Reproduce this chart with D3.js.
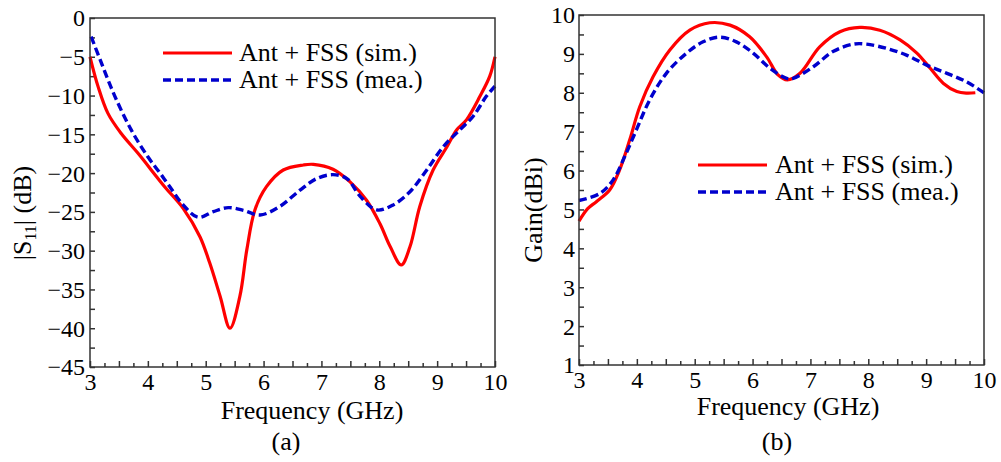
<!DOCTYPE html>
<html lang="en">
<head>
    <meta charset="UTF-8">
    <title>Ant + FSS: S11 and Gain</title>
    <script src="https://d3js.org/d3.v7.min.js"></script>
    <style>
        body {
            margin: 0;
            background: #fff;
        }
        svg text {
            font-family: "Liberation Serif", "Times New Roman", "DejaVu Serif", serif;
            fill: #000;
        }
    </style>
</head>
<body>
    <svg id="chart" width="1001" height="462"></svg>

    <script>
        // (a) |S11| data
        const s11SimFreq = [3.00, 3.14, 3.31, 3.54, 3.83, 4.29, 4.61, 4.90, 5.07, 5.25, 5.42, 5.59, 5.71, 5.85, 6.05, 6.34, 6.69, 6.86, 7.20, 7.49, 7.78, 8.01, 8.19, 8.38, 8.53, 8.70, 8.93, 9.17, 9.34, 9.51, 9.74, 9.91, 10.0];
        const s11SimDb   = [-5.0, -8.85, -12.3, -14.9, -17.45, -21.75, -24.54, -28.2, -31.6, -35.9, -40.0, -35.9, -29.9, -24.75, -21.75, -19.6, -18.95, -18.87, -19.5, -21.1, -23.5, -26.5, -29.5, -31.85, -29.5, -24.3, -19.6, -16.6, -14.4, -13.1, -10.1, -7.5, -5.0];
        const s11MeaFreq = [3.02, 3.20, 3.43, 3.71, 4.00, 4.21, 4.38, 4.61, 4.87, 5.13, 5.39, 5.65, 5.94, 6.28, 6.63, 6.92, 7.20, 7.44, 7.67, 7.955, 8.24, 8.53, 8.82, 9.106, 9.395, 9.62, 9.85, 10.0];
        const s11MeaDb   = [-2.4, -5.85, -10.1, -14.4, -17.9, -20.0, -21.75, -24.1, -25.7, -24.97, -24.45, -24.8, -25.4, -24.3, -22.2, -20.7, -20.2, -20.7, -23.0, -24.75, -24.1, -22.4, -19.6, -16.6, -14.4, -12.7, -10.1, -8.8];

        // (b) gain data
        const gainSimFreq = [3.00, 3.15, 3.30, 3.53, 3.70, 3.877, 4.05, 4.28, 4.57, 4.915, 5.26, 5.61, 5.95, 6.24, 6.44, 6.60, 6.82, 7.16, 7.51, 7.855, 8.20, 8.55, 8.84, 9.07, 9.30, 9.53, 9.70, 9.85];
        const gainSimDbi  = [4.70, 5.02, 5.20, 5.50, 6.01, 6.79, 7.64, 8.41, 9.10, 9.61, 9.80, 9.74, 9.44, 8.93, 8.46, 8.33, 8.50, 9.18, 9.57, 9.68, 9.61, 9.36, 9.02, 8.63, 8.24, 8.03, 7.99, 8.00];
        const gainMeaFreq = [3.00, 3.36, 3.59, 3.79, 3.99, 4.22, 4.51, 4.86, 5.145, 5.43, 5.72, 6.01, 6.30, 6.59, 6.70, 7.05, 7.39, 7.74, 7.97, 8.32, 8.66, 9.01, 9.36, 9.70, 10.0];
        const gainMeaDbi  = [5.23, 5.41, 5.76, 6.36, 7.04, 7.81, 8.50, 9.02, 9.31, 9.43, 9.31, 9.02, 8.63, 8.37, 8.37, 8.67, 9.06, 9.25, 9.25, 9.14, 8.97, 8.71, 8.50, 8.28, 8.00];

        // tick values
        const freqTicks = [3, 4, 5, 6, 7, 8, 9, 10];
        const s11Ticks = [0, -5, -10, -15, -20, -25, -30, -35, -40, -45];
        const gainTicks = [1, 2, 3, 4, 5, 6, 7, 8, 9, 10];
        const legendLabels = ["Ant + FSS (sim.)", "Ant + FSS (mea.)"];

        const simColor = "#ff0000", meaColor = "#0000cd", axisColor = "#333";
        const svg = d3.select("#chart");

        function zip(xs, ys) {
            return xs.map((x, i) => [x, ys[i]]);
        }

        function drawPanel(p) {
            const x = d3.scaleLinear().domain([3, 10]).range([p.left, p.right]);
            const y = d3.scaleLinear().domain(p.yDomain).range([p.bottom, p.top]);
            const g = svg.append("g");

            // minor x ticks (quarters) and half ticks
            const quarters = d3.range(3, 10.001, 0.25);
            g.append("g")
                .attr("transform", `translate(0,${p.bottom})`)
                .call(d3.axisBottom(x).tickValues(quarters.filter(v => v % 0.5 !== 0)).tickSize(-4).tickFormat(""));
            g.append("g")
                .attr("transform", `translate(0,${p.bottom})`)
                .call(d3.axisBottom(x).tickValues(quarters.filter(v => v % 0.5 === 0 && v % 1 !== 0)).tickSize(-6).tickFormat(""));

            // major x ticks with labels
            g.append("g")
                .attr("class", "xaxis")
                .attr("transform", `translate(0,${p.bottom})`)
                .call(d3.axisBottom(x).tickValues(freqTicks).tickSize(-6).tickPadding(6).tickFormat(d3.format("d")));

            // y ticks
            g.append("g")
                .attr("transform", `translate(${p.left},0)`)
                .call(d3.axisLeft(y).tickValues(p.yMinor).tickSize(-5).tickFormat(""));
            g.append("g")
                .attr("class", "yaxis")
                .attr("transform", `translate(${p.left},0)`)
                .call(d3.axisLeft(y).tickValues(p.yTicks).tickSize(-5).tickPadding(p.yPad).tickFormat(d3.format("d")));

            g.selectAll(".domain").remove();
            g.selectAll(".tick line").attr("stroke", axisColor).attr("stroke-width", 1.5);
            g.selectAll(".xaxis text, .yaxis text")
                .style("font-size", "24px")
                .style("font-family", "'Liberation Serif', 'Times New Roman', 'DejaVu Serif', serif")
                .attr("fill", "#000");
            g.selectAll(".yaxis text").attr("dy", "0.33em");

            // curves
            const line = d3.line()
                .x(d => x(d[0]))
                .y(d => y(d[1]))
                .curve(d3.curveCatmullRom.alpha(0.5));

            g.append("path")
                .datum(zip(p.simF, p.simV))
                .attr("d", line)
                .attr("fill", "none")
                .attr("stroke", simColor)
                .attr("stroke-width", 3.2);

            g.append("path")
                .datum(zip(p.meaF, p.meaV))
                .attr("d", line)
                .attr("fill", "none")
                .attr("stroke", meaColor)
                .attr("stroke-width", 3.4)
                .attr("stroke-dasharray", "8,4");

            // frame
            g.append("rect")
                .attr("x", p.left)
                .attr("y", p.top)
                .attr("width", p.right - p.left)
                .attr("height", p.bottom - p.top)
                .attr("fill", "none")
                .attr("stroke", axisColor)
                .attr("stroke-width", 1.5);

            // legend
            legendLabels.forEach((label, i) => {
                const ly = p.legendY[i];
                g.append("line")
                    .attr("x1", p.legendX[0]).attr("x2", p.legendX[1])
                    .attr("y1", ly).attr("y2", ly)
                    .attr("stroke", i === 0 ? simColor : meaColor)
                    .attr("stroke-width", i === 0 ? 3.2 : 3.4)
                    .attr("stroke-dasharray", i === 0 ? null : "8,4");
                g.append("text")
                    .attr("x", p.legendX[2])
                    .attr("y", ly + 8)
                    .attr("font-size", 26)
                    .text(label);
            });

            // axis titles
            g.append("text")
                .attr("x", p.xTitle[0])
                .attr("y", p.xTitle[1])
                .attr("text-anchor", "middle")
                .attr("font-size", 26)
                .text("Frequency (GHz)");

            const yt = g.append("text")
                .attr("transform", `translate(${p.yTitle[0]},${p.yTitle[1]}) rotate(-90)`)
                .attr("text-anchor", "middle")
                .attr("font-size", 26);
            p.yTitleParts.forEach(part => {
                const t = yt.append("tspan").text(part.text);
                if (part.sub) t.attr("font-size", 16).attr("dy", 5);
                if (part.after) t.attr("dy", -5);
            });

            g.append("text")
                .attr("x", p.caption[0])
                .attr("y", p.caption[1])
                .attr("text-anchor", "middle")
                .attr("font-size", 26)
                .text(p.captionText);
        }

        drawPanel({
            left: 90, right: 495, top: 18, bottom: 367,
            yDomain: [-45, 0],
            yTicks: s11Ticks,
            yMinor: d3.range(-42.5, 0, 5),
            yPad: 5,
            simF: s11SimFreq, simV: s11SimDb,
            meaF: s11MeaFreq, meaV: s11MeaDb,
            legendX: [163, 232, 239],
            legendY: [53, 80],
            xTitle: [312, 419],
            yTitle: [31, 213],
            yTitleParts: [{ text: "|S" }, { text: "11", sub: true }, { text: "| (dB)", after: true }],
            caption: [286, 450],
            captionText: "(a)"
        });

        drawPanel({
            left: 579, right: 984, top: 15, bottom: 365,
            yDomain: [1, 10],
            yTicks: gainTicks,
            yMinor: d3.range(1.5, 10, 1),
            yPad: 4,
            simF: gainSimFreq, simV: gainSimDbi,
            meaF: gainMeaFreq, meaV: gainMeaDbi,
            legendX: [698, 767, 775],
            legendY: [165, 192],
            xTitle: [788, 415],
            yTitle: [542, 210],
            yTitleParts: [{ text: "Gain(dBi)" }],
            caption: [777, 450],
            captionText: "(b)"
        });
    </script>
</body>
</html>
